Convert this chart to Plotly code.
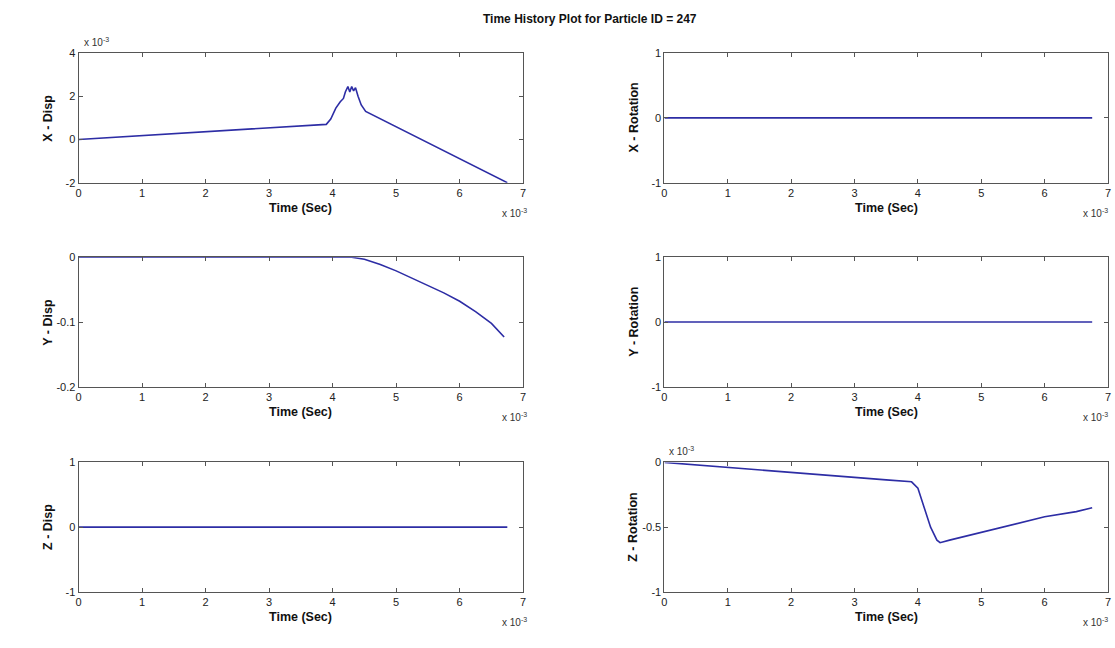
import plotly.graph_objects as go

W, H = 1115, 648

# ---------------- data (time in units of 1e-3 s) ----------------
t_xdisp = [0, 1, 2, 3, 3.9, 3.97, 4.05, 4.12, 4.17, 4.2, 4.24, 4.27, 4.3, 4.33, 4.36, 4.4, 4.45, 4.52, 5.0, 5.5, 6.0, 6.5, 6.75]
x_disp = [0, 0.18, 0.36, 0.54, 0.70, 0.95, 1.45, 1.75, 1.9, 2.2, 2.45, 2.2, 2.45, 2.25, 2.4, 2.0, 1.6, 1.3, 0.59, -0.15, -0.89, -1.63, -2.0]  # x 1e-3

t_ydisp = [0, 1, 2, 3, 4, 4.3, 4.5, 4.75, 5.0, 5.25, 5.5, 5.75, 6.0, 6.25, 6.5, 6.7]
y_disp = [0, 0, 0, 0, 0, 0, -0.003, -0.011, -0.021, -0.032, -0.043, -0.055, -0.068, -0.084, -0.102, -0.123]

t_flat = [0, 6.75]
z_disp = [0, 0]
x_rot = [0, 0]
y_rot = [0, 0]

t_zrot = [0, 0.5, 1, 1.5, 2, 2.5, 3, 3.5, 3.9, 4.0, 4.1, 4.2, 4.3, 4.35, 4.5, 5.0, 5.5, 6.0, 6.5, 6.75]
z_rot = [0, -0.02, -0.04, -0.06, -0.08, -0.10, -0.12, -0.135, -0.15, -0.2, -0.35, -0.5, -0.6, -0.62, -0.60, -0.54, -0.48, -0.42, -0.38, -0.35]  # x 1e-3

x_ticks = [0, 1, 2, 3, 4, 5, 6, 7]

panels = [
    # (t, y, yrange, yticks, yticklabels, ylabel, row, col, yexp)
    (t_xdisp, x_disp, [-2, 4], [-2, 0, 2, 4], ["-2", "0", "2", "4"], "X - Disp", 0, 0, True),
    (t_flat, x_rot, [-1, 1], [-1, 0, 1], ["-1", "0", "1"], "X - Rotation", 0, 1, False),
    (t_ydisp, y_disp, [-0.2, 0], [-0.2, -0.1, 0], ["-0.2", "-0.1", "0"], "Y - Disp", 1, 0, False),
    (t_flat, y_rot, [-1, 1], [-1, 0, 1], ["-1", "0", "1"], "Y - Rotation", 1, 1, False),
    (t_flat, z_disp, [-1, 1], [-1, 0, 1], ["-1", "0", "1"], "Z - Disp", 2, 0, False),
    (t_zrot, z_rot, [-1, 0], [-1, -0.5, 0], ["-1", "-0.5", "0"], "Z - Rotation", 2, 1, True),
]

# ---------------- layout geometry (pixels) ----------------
col_x = [(76, 523), (665, 1111)]
row_y = [(48, 180), (256, 388), (465, 597)]

def px(x):
    return x / W

def py(y):
    return 1 - y / H

fig = go.Figure()
layout = dict(
    width=W, height=H,
    margin=dict(l=0, r=0, t=0, b=0),
    paper_bgcolor="white", plot_bgcolor="white",
    showlegend=False,
    font=dict(family="Liberation Sans, Arial, sans-serif", size=11, color="#222"),
)
annotations = []

line_color = "#555555"
for i, (t, y, yr, yt, ytl, ylab, r, c, yexp) in enumerate(panels):
    n = "" if i == 0 else str(i + 1)
    x0, x1 = col_x[c]
    y0, y1 = row_y[r]
    fig.add_trace(go.Scatter(
        x=t, y=y, mode="lines",
        line=dict(color="rgb(45,45,165)", width=1.6),
        xaxis="x" + n, yaxis="y" + n, hoverinfo="skip",
    ))
    layout["xaxis" + n] = dict(
        domain=[px(x0), px(x1)], range=[0, 7], anchor="y" + n,
        tickmode="array", tickvals=x_ticks, ticktext=[str(v) for v in x_ticks],
        ticks="inside", ticklen=4, tickcolor=line_color,
        showline=True, linecolor=line_color, linewidth=1, mirror="ticks",
        showgrid=False, zeroline=False,
        tickfont=dict(size=11, color="#222"),
    )
    layout["yaxis" + n] = dict(
        domain=[py(y1), py(y0)], range=yr, anchor="x" + n,
        tickmode="array", tickvals=yt, ticktext=ytl,
        ticks="inside", ticklen=4, tickcolor=line_color,
        showline=True, linecolor=line_color, linewidth=1, mirror="ticks",
        showgrid=False, zeroline=False,
        tickfont=dict(size=11, color="#222"),
    )
    # x-axis title
    annotations.append(dict(
        x=px((x0 + x1) / 2), y=py(y1 + 26), xref="paper", yref="paper",
        text="<b>Time (Sec)</b>", showarrow=False, font=dict(size=12.5, color="#111"),
        xanchor="center", yanchor="middle",
    ))
    # x exponent
    annotations.append(dict(
        x=px(min(x1 + 6, W - 2)), y=py(y1 + 31), xref="paper", yref="paper",
        text="x 10<sup>-3</sup>", showarrow=False, font=dict(size=10, color="#333"),
        xanchor="right", yanchor="middle",
    ))
    # y-axis title
    annotations.append(dict(
        x=px(x0 - 31), y=py((y0 + y1) / 2), xref="paper", yref="paper",
        text="<b>%s</b>" % ylab, showarrow=False, textangle=-90,
        font=dict(size=12.5, color="#111"), xanchor="center", yanchor="middle",
    ))
    if yexp:
        annotations.append(dict(
            x=px(x0 + 3), y=py(y0 - 3), xref="paper", yref="paper",
            text="x 10<sup>-3</sup>", showarrow=False, font=dict(size=10, color="#333"),
            xanchor="left", yanchor="bottom",
        ))

annotations.append(dict(
    x=px(590), y=py(13), xref="paper", yref="paper",
    text="<b>Time History Plot for Particle ID = 247</b>", showarrow=False,
    font=dict(size=12, color="#111"), xanchor="center", yanchor="middle",
))

layout["annotations"] = annotations
fig.update_layout(**layout)
fig.write_html("out.html")
